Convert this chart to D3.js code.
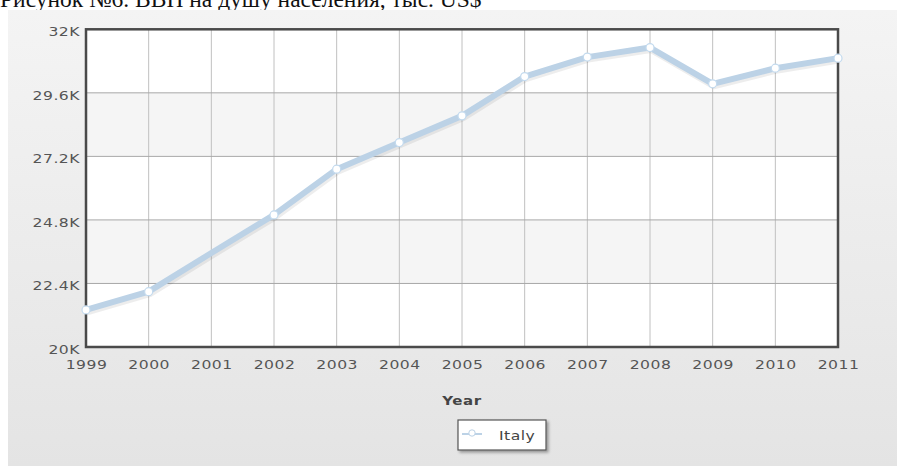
<!DOCTYPE html>
<html><head><meta charset="utf-8">
<script src="https://cdn.jsdelivr.net/npm/d3@7/dist/d3.min.js"></script>
<style>body{margin:0;background:#fff;}svg{display:block;}</style>
</head><body>
<script>
const years = ["1999","2000","2001","2002","2003","2004","2005","2006","2007","2008","2009","2010","2011"];
const italy = [21400,22090,23550,24990,26716,27720,28730,30215,30950,31310,29940,30530,30910];
const noMarker = ["2001"];
const yTicks = [20000,22400,24800,27200,29600,32000];
const yTickLabels = ["20K","22.4K","24.8K","27.2K","29.6K","32K"];
const titleText = "Рисунок №6. ВВП на душу населения, тыс. US$";
const xTitle = "Year";
const seriesName = "Italy";

const W=897,H=466;
const FONT="DejaVu Sans, Verdana, sans-serif";
const SX=1.25;
const svg=d3.select("body").append("svg").attr("width",W).attr("height",H);
const defs=svg.append("defs");
const g1=defs.append("linearGradient").attr("id","bg").attr("x1",0).attr("y1",0).attr("x2",0).attr("y2",1);
g1.append("stop").attr("offset","0").attr("stop-color","#f4f4f4");
g1.append("stop").attr("offset","1").attr("stop-color","#e4e4e4");
const f=defs.append("filter").attr("id","sh").attr("x","-20%").attr("y","-20%").attr("width","140%").attr("height","160%");
f.append("feGaussianBlur").attr("in","SourceAlpha").attr("stdDeviation",1.5);
f.append("feOffset").attr("dx",1.5).attr("dy",2).attr("result","o");
f.append("feComponentTransfer").append("feFuncA").attr("type","linear").attr("slope",0.35);
const m=f.append("feMerge");m.append("feMergeNode");m.append("feMergeNode").attr("in","SourceGraphic");

// title (partially hidden behind the chart panel, as in the reference)
svg.append("text").attr("x",0).attr("y",7).attr("font-family","Liberation Serif, Times New Roman, serif")
  .attr("font-size",23.5).attr("fill","#111").text(titleText);
svg.append("rect").attr("x",8).attr("y",10).attr("width",W-8).attr("height",H-10).attr("fill","url(#bg)");

const L=86,R=838,T=29.3,B=347;
const x=d3.scalePoint().domain(years).range([L,R]);
const y=d3.scaleLinear().domain([20000,32000]).range([B,T]);

svg.append("rect").attr("x",L).attr("y",T).attr("width",R-L).attr("height",B-T).attr("fill","#fff");
for(let i=1;i<yTicks.length-1;i+=2){
  svg.append("rect").attr("x",L).attr("width",R-L).attr("y",y(yTicks[i+1])).attr("height",y(yTicks[i])-y(yTicks[i+1])).attr("fill","#f5f5f5");
}
svg.append("g").selectAll("line").data(years.slice(1,-1)).join("line")
 .attr("x1",d=>x(d)).attr("x2",d=>x(d)).attr("y1",T).attr("y2",B).attr("stroke","#c0c0c0").attr("stroke-width",1);
svg.append("g").selectAll("line").data(yTicks.slice(1,-1)).join("line")
 .attr("x1",L).attr("x2",R).attr("y1",d=>y(d)).attr("y2",d=>y(d)).attr("stroke","#a8a8a8").attr("stroke-width",1);

const yAxis=d3.axisLeft(y).tickValues(yTicks).tickFormat((d,i)=>yTickLabels[i]).tickSize(0).tickPadding(6/SX);
const ya=svg.append("g").attr("transform",`translate(${L},0)`).call(yAxis);
ya.select(".domain").remove();
ya.selectAll("text").attr("font-family",FONT).attr("font-size",12.5).attr("fill","#555")
  .attr("letter-spacing",0.4).attr("dy","0.32em").attr("y",2.5).attr("transform",`scale(${SX},1)`);
const xAxis=d3.axisBottom(x).tickSize(0).tickPadding(13);
const xa=svg.append("g").attr("transform",`translate(0,${B})`).call(xAxis);
xa.select(".domain").remove();
xa.selectAll("text").attr("font-family",FONT).attr("font-size",12.5).attr("fill","#555")
  .attr("letter-spacing",0.4).attr("transform",`scale(${SX},1)`);

svg.append("text").attr("transform",`translate(${(L+R)/2},405) scale(${SX},1)`).attr("text-anchor","middle")
 .attr("font-family",FONT).attr("font-weight","bold").attr("font-size",12).attr("letter-spacing",0.5).attr("fill","#444").text(xTitle);

svg.append("rect").attr("x",L).attr("y",T).attr("width",R-L).attr("height",B-T).attr("fill","none").attr("stroke","#4a4a4a").attr("stroke-width",2.5);

const data=years.map((d,i)=>({year:d,v:italy[i]}));
const line=d3.line().x(d=>x(d.year)).y(d=>y(d.v));
svg.append("path").datum(data).attr("d",line).attr("fill","none").attr("stroke","#000").attr("stroke-opacity",0.07)
 .attr("stroke-width",7).attr("transform","translate(1,2)").attr("stroke-linejoin","round");
svg.append("path").datum(data).attr("d",line).attr("fill","none").attr("stroke","#bcd2e6").attr("stroke-width",6).attr("stroke-linejoin","round").attr("stroke-linecap","round");
svg.append("g").selectAll("circle").data(data.filter(d=>!noMarker.includes(d.year))).join("circle")
 .attr("cx",d=>x(d.year)).attr("cy",d=>y(d.v)).attr("r",4).attr("fill","#fff").attr("stroke","#c3daee").attr("stroke-width",1.2);

const lg=svg.append("g");
lg.append("rect").attr("x",458).attr("y",420).attr("width",88).attr("height",30).attr("fill","#fff").attr("stroke","#555").attr("stroke-width",1.2).attr("filter","url(#sh)");
lg.append("line").attr("x1",462).attr("x2",482).attr("y1",434).attr("y2",434).attr("stroke","#bcd2e6").attr("stroke-width",2);
lg.append("circle").attr("cx",472).attr("cy",433).attr("r",3.2).attr("fill","#fff").attr("stroke","#bcd2e6").attr("stroke-width",1);
lg.append("text").attr("transform",`translate(499,440) scale(${SX},1)`).attr("font-family",FONT).attr("font-size",12.5).attr("letter-spacing",0.4).attr("fill","#444").text(seriesName);
</script>
</body></html>
